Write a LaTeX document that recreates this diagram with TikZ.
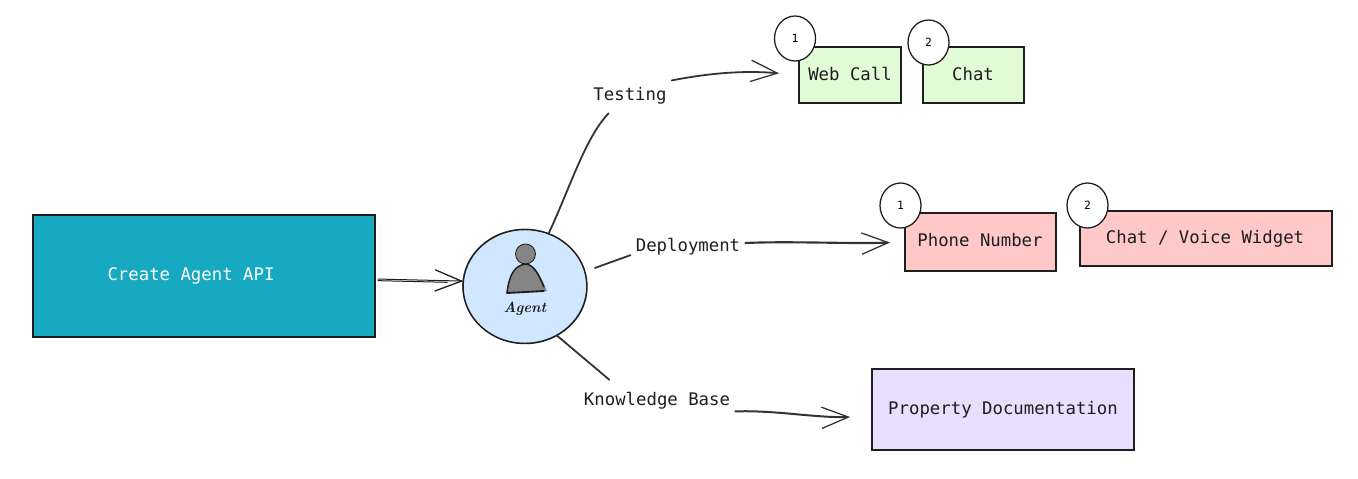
\documentclass[tikz,border=0pt]{standalone}
\usepackage{fontspec}
\newfontfamily\sketchmono{DejaVu Sans Mono}
\usetikzlibrary{arrows.meta,shapes.geometric}
\definecolor{ink}{HTML}{1E1E1E}
\definecolor{softink}{HTML}{333333}
\definecolor{tealfill}{HTML}{17A9C1}
\definecolor{bluefill}{HTML}{D0E7FF}
\definecolor{greenfill}{HTML}{E0FBD6}
\definecolor{redfill}{HTML}{FFC9C9}
\definecolor{purplefill}{HTML}{E7DFFD}
\definecolor{persongray}{HTML}{858585}
\tikzset{
  x=0.75pt,y=-0.75pt,
  ghost/.style={postaction={draw=ink,opacity=.5,line width=.45pt,transform canvas={shift={(#1)}}}},
  sketchbox/.style={draw=ink,line width=.8pt,rectangle,inner sep=0pt,outer sep=0pt,ghost={.5pt,-.4pt}},
  sketchcircle/.style={draw=ink,line width=.95pt,ellipse,inner sep=0pt,outer sep=0pt,fill=white,font=\sketchmono\fontsize{8.5}{10}\selectfont},
  boxtext/.style={font=\sketchmono\fontsize{13}{15}\selectfont,text=ink,inner sep=0pt,text height=9.5pt,text depth=0pt},
  edgelabel/.style={boxtext,inner xsep=3.75pt,minimum height=28.5pt},
  line/.style={draw=softink,line width=1.35pt,line cap=round},
  thinline/.style={draw=ink,line width=.75pt,line cap=round},
  openarrow/.style={-{Straight Barb[length=20pt,width=16pt,line width=.95pt]}},
}
\begin{document}
\begin{tikzpicture}
\useasboundingbox (0,0) rectangle (1358,478);
\fill[white] (0,0) rectangle (1358,478);

% source box
\node[sketchbox,fill=tealfill,minimum width=256.5pt,minimum height=91.5pt] (api) at (204,276) {};
\node[boxtext,text=white] (apitext) at (191,274.5) {Create Agent API};

% agent
\node[draw=ink,line width=1.1pt,ellipse,inner sep=0pt,outer sep=0pt,fill=bluefill,minimum width=93pt,minimum height=85.5pt,ghost={-.4pt,.4pt}] (agent) at (525,286.5) {};
\fill[persongray,draw=ink,line width=.6pt] (525.5,254) circle[x radius=10,y radius=10];
\fill[persongray] (507,293) .. controls (509,276) and (514,265) .. (526,264) .. controls (537,265) and (542,280) .. (547,291) -- cycle;
\draw[ink,line width=1.1pt,line cap=round] (507,293) .. controls (509,276) and (514,265) .. (526,264) .. controls (535,265) and (540,278) .. (544,287);
\draw[ink,line width=1.4pt,line cap=round] (507,293) -- (544,291);
\node[inner sep=0pt,text=ink,font=\bfseries\itshape\fontsize{11}{13}\selectfont] (agentlabel) at (525,309) {Agent};

% edge labels
\node[edgelabel] (testing) at (630,94) {Testing};
\node[edgelabel] (deploy) at (688,245) {Deployment};
\node[edgelabel] (kb) at (657,399) {Knowledge Base};

% targets
\node[sketchbox,fill=greenfill,minimum width=76.5pt,minimum height=42pt] (web) at (850,75) {};
\node[boxtext] (webtext) at (850,74) {Web Call};
\node[sketchbox,fill=greenfill,minimum width=75.75pt,minimum height=42pt] (chat) at (973.5,75) {};
\node[boxtext] (chattext) at (973,74) {Chat};
\node[sketchbox,fill=redfill,minimum width=113.25pt,minimum height=43.5pt] (phone) at (980.5,242) {};
\node[boxtext] (phonetext) at (980,240) {Phone Number};
\node[sketchbox,fill=redfill,minimum width=189pt,minimum height=41.25pt] (widget) at (1206,238.5) {};
\node[boxtext] (widgettext) at (1205,237) {Chat / Voice Widget};
\node[sketchbox,fill=purplefill,minimum width=196.5pt,minimum height=60.75pt] (prop) at (1003,409.5) {};
\node[boxtext] (proptext) at (1003,408) {Property Documentation};

% badges
\node[sketchcircle,minimum width=30.75pt,minimum height=33.75pt] (b1) at (795,38.5) {1};
\node[sketchcircle,minimum width=30.75pt,minimum height=33.75pt] (b2) at (928.5,42.5) {2};
\node[sketchcircle,minimum width=30.75pt,minimum height=33.75pt] (b3) at (900.5,205.5) {1};
\node[sketchcircle,minimum width=30.75pt,minimum height=33.75pt] (b4) at (1087.5,205.5) {2};

% connectors
\draw[thinline,openarrow,shorten <=2.25pt] (api.-1) -- (agent.175);
\draw[thinline,shorten <=2.25pt,shorten >=12pt] ([yshift=-1.2pt]api.-1) -- ([yshift=-1.2pt]agent.175);

\draw[line] (agent.66) .. controls (570,188) and (585,138) .. (testing.222);
\draw[line,openarrow,shorten >=15pt] (testing.18) .. controls (705,74) and (740,70) .. (web.west);

\draw[line,shorten <=8pt] (agent.14) -- (deploy.190);
\draw[line,line width=1.6pt,openarrow,shorten >=11.25pt] (deploy.2) .. controls (790,241) and (850,244) .. (phone.west);

\draw[line] (agent.-57) -- (kb.158);
\draw[line,line width=1.5pt,openarrow,shorten >=16.5pt] (kb.-9) .. controls (775,410) and (815,418) .. (prop.183);
\end{tikzpicture}
\end{document}
